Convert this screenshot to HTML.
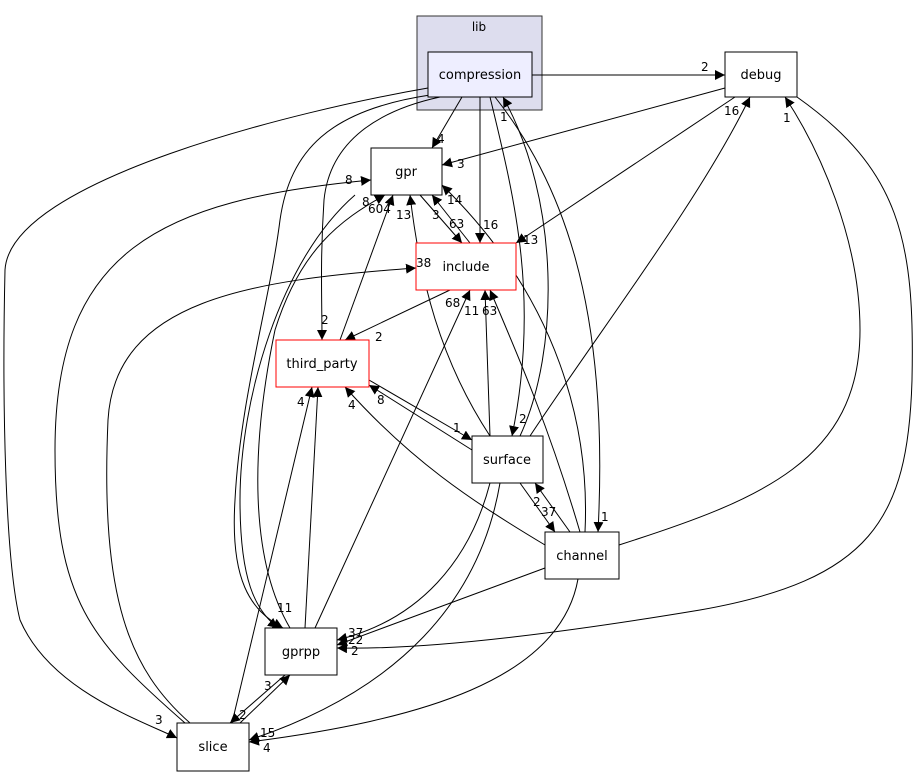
<!DOCTYPE html>
<html><head><meta charset="utf-8"><style>
html,body{margin:0;padding:0;background:#fff;}
svg text{font-family:"DejaVu Sans","Liberation Sans",sans-serif;}
</style></head><body>
<svg width="919" height="777" viewBox="0 0 919 777" xmlns="http://www.w3.org/2000/svg">
<defs><marker id="a" viewBox="0 0 10 10" refX="10" refY="5" markerWidth="10" markerHeight="10" markerUnits="userSpaceOnUse" orient="auto"><path d="M0,0L10,5L0,10z" fill="#000"/></marker></defs>
<rect x="417" y="16" width="125" height="94" fill="#ddddee" stroke="#333"/>
<text x="479" y="31" font-size="12" text-anchor="middle">lib</text>
<g fill="none" stroke="#000" stroke-width="1" marker-end="url(#a)">
<path d="M532,75L725,75"/>
<path d="M462,97L432,148"/>
<path d="M480,97L480,243"/>
<path d="M440,97C380,110 330,140 324,200C320,260 322,300 322,340"/>
<path d="M428,88C300,110 10,180 5,270C2,400 5,560 20,620C50,690 140,720 177,738"/>
<path d="M430,95C330,110 290,150 280,220C270,300 240,400 235,500C230,580 250,610 283,628"/>
<path d="M490,97C515,200 540,300 512,436"/>
<path d="M495,97C560,180 610,300 598,532"/>
<path d="M520,436C560,350 560,200 503,97"/>
<path d="M725,88L442,165"/>
<path d="M735,97L516,243"/>
<path d="M797,97C900,170 915,240 912,380C908,520 870,580 700,610C550,635 420,650 337,648"/>
<path d="M420,195L462,243"/>
<path d="M470,243L432,195"/>
<path d="M340,340L393,195"/>
<path d="M490,436C440,360 420,280 410,195"/>
<path d="M585,532C590,430 560,300 442,185"/>
<path d="M450,290L345,340"/>
<path d="M190,723C130,670 100,600 108,420C115,300 250,280 416,268"/>
<path d="M185,723C90,640 55,600 55,450C55,250 160,200 371,180"/>
<path d="M290,628C250,560 250,450 275,330C300,250 340,220 385,195"/>
<path d="M315,628L470,290"/>
<path d="M490,436L485,290"/>
<path d="M580,532C550,430 520,360 490,290"/>
<path d="M472,450L369,385"/>
<path d="M369,380L472,440"/>
<path d="M545,545C470,500 410,460 345,387"/>
<path d="M305,628L318,387"/>
<path d="M232,723L312,387"/>
<path d="M530,436C600,330 700,200 750,97"/>
<path d="M619,545C760,500 860,460 860,330C860,240 820,150 785,97"/>
<path d="M520,483L555,532"/>
<path d="M570,532L535,483"/>
<path d="M490,483C470,560 420,620 337,640"/>
<path d="M545,568L337,645"/>
<path d="M500,483C480,600 400,690 249,740"/>
<path d="M578,579C560,680 420,720 249,742"/>
<path d="M285,675L230,723"/>
<path d="M240,723L290,675"/>
<path d="M355,195C280,260 240,400 240,500C240,580 255,610 278,628"/>
</g>
<g stroke="#000" fill="#fff">
<rect x="428" y="52" width="104" height="45" fill="#eeeeff"/>
<rect x="725" y="52" width="72" height="45"/>
<rect x="371" y="148" width="71" height="47"/>
<rect x="416" y="243" width="100" height="47" stroke="#ff0000"/>
<rect x="276" y="340" width="93" height="47" stroke="#ff0000"/>
<rect x="472" y="436" width="71" height="47"/>
<rect x="545" y="532" width="74" height="47"/>
<rect x="265" y="628" width="72" height="47"/>
<rect x="177" y="723" width="72" height="48"/>
</g>
<g font-size="13" text-anchor="middle">
<text x="480" y="79">compression</text>
<text x="761" y="79">debug</text>
<text x="406" y="176">gpr</text>
<text x="466" y="271">include</text>
<text x="322" y="368">third_party</text>
<text x="507" y="464">surface</text>
<text x="582" y="560">channel</text>
<text x="301" y="656">gprpp</text>
<text x="213" y="751">slice</text>
</g>
<g font-size="12">
<text x="701" y="71">2</text><text x="437" y="143">4</text><text x="483" y="229">16</text>
<text x="321" y="324">2</text><text x="155" y="724">3</text><text x="277" y="612">11</text>
<text x="519" y="423">2</text><text x="601" y="521">1</text><text x="500" y="121">1</text>
<text x="457" y="168">3</text><text x="523" y="244">13</text><text x="351" y="655">2</text>
<text x="449" y="228">63</text><text x="432" y="219">3</text><text x="447" y="204">14</text>
<text x="368" y="213">604</text><text x="396" y="219">13</text><text x="375" y="341">2</text>
<text x="416" y="267">38</text><text x="345" y="184">8</text><text x="362" y="206">8</text>
<text x="445" y="307">68</text><text x="464" y="315">11</text><text x="482" y="315">63</text>
<text x="377" y="404">8</text><text x="453" y="432">1</text><text x="348" y="409">4</text>
<text x="297" y="406">4</text><text x="724" y="115">16</text><text x="783" y="122">1</text>
<text x="541" y="516">37</text><text x="533" y="506">2</text><text x="348" y="637">37</text>
<text x="348" y="644">22</text><text x="260" y="737">15</text><text x="263" y="752">4</text>
<text x="239" y="719">2</text><text x="264" y="690">3</text>
</g>
</svg>
</body></html>
